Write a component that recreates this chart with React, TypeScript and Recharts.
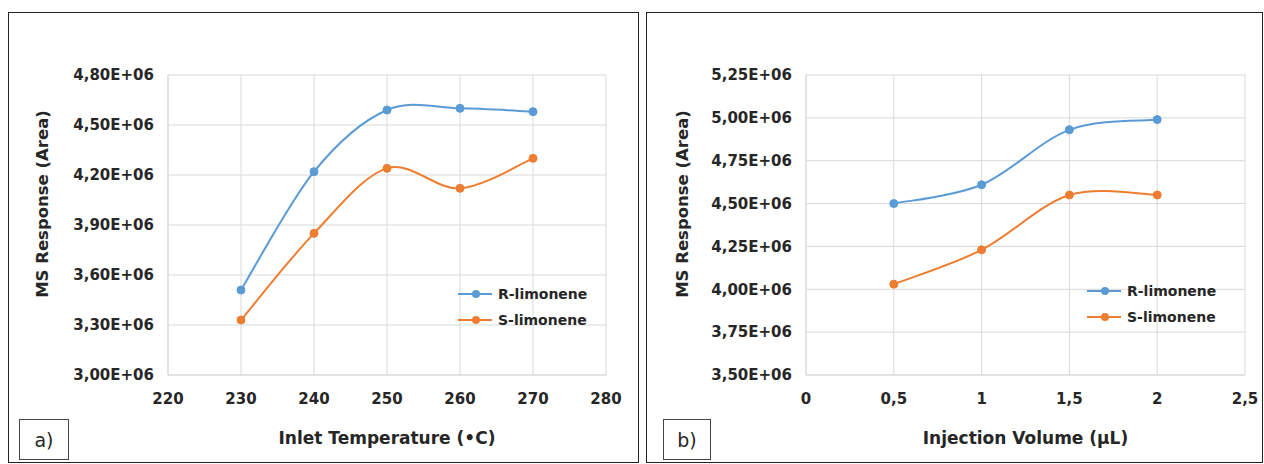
import React from "react";
import { LineChart, Line, XAxis, YAxis, CartesianGrid, Legend } from "recharts";

// panel a) inlet temperature
const temperatures = [230, 240, 250, 260, 270];
const rTemp = [3.51e6, 4.22e6, 4.59e6, 4.6e6, 4.58e6];
const sTemp = [3.33e6, 3.85e6, 4.24e6, 4.12e6, 4.3e6];
const tempTicks = [220, 230, 240, 250, 260, 270, 280];
const tempYTicks = [3.0e6, 3.3e6, 3.6e6, 3.9e6, 4.2e6, 4.5e6, 4.8e6];

// panel b) injection volume
const volumes = [0.5, 1, 1.5, 2];
const rVol = [4.5e6, 4.61e6, 4.93e6, 4.99e6];
const sVol = [4.03e6, 4.23e6, 4.55e6, 4.55e6];
const volTicks = [0, 0.5, 1, 1.5, 2, 2.5];
const volYTicks = [3.5e6, 3.75e6, 4.0e6, 4.25e6, 4.5e6, 4.75e6, 5.0e6, 5.25e6];

const BLUE = "#5b9bd5";
const ORANGE = "#ed7d31";
const GRID = "#d9d9d9";
const TEXT = "#262626";
const FONT = "'DejaVu Sans', Verdana, sans-serif";

const tempData = temperatures.map((t, i) => ({ x: t, r: rTemp[i], s: sTemp[i] }));
const volData = volumes.map((v, i) => ({ x: v, r: rVol[i], s: sVol[i] }));

const fmtY = (v: number) => (v / 1e6).toFixed(2).replace(".", ",") + "E+06";
const fmtX = (v: number) => String(v).replace(".", ",");

// Excel-style smoothed line (Catmull-Rom as cubic bezier)
function excelSmooth(context: any) {
  let pts: number[][] = [];
  return {
    areaStart() {},
    areaEnd() {},
    lineStart() {
      pts = [];
    },
    point(x: number, y: number) {
      pts.push([x, y]);
    },
    lineEnd() {
      const n = pts.length;
      if (!n) return;
      context.moveTo(pts[0][0], pts[0][1]);
      for (let i = 0; i < n - 1; i++) {
        const p0 = pts[Math.max(i - 1, 0)];
        const p1 = pts[i];
        const p2 = pts[i + 1];
        const p3 = pts[Math.min(i + 2, n - 1)];
        context.bezierCurveTo(
          p1[0] + (p2[0] - p0[0]) / 6,
          p1[1] + (p2[1] - p0[1]) / 6,
          p2[0] - (p3[0] - p1[0]) / 6,
          p2[1] - (p3[1] - p1[1]) / 6,
          p2[0],
          p2[1]
        );
      }
    },
  };
}

const tickStyle = { fontFamily: FONT, fontSize: 15, fontWeight: "bold", fill: TEXT };

const renderLegend = (props: any) => (
  <div style={{ fontFamily: FONT }}>
    {props.payload.map((entry: any, index: number) => (
      <div key={`item-${index}`} style={{ display: "flex", alignItems: "center", height: 26 }}>
        <svg width={34} height={10}>
          <line x1={0} y1={5} x2={34} y2={5} stroke={entry.color} strokeWidth={2} />
          <circle cx={18} cy={5} r={4} fill={entry.color} />
        </svg>
        <span style={{ marginLeft: 6, fontSize: 14, fontWeight: "bold", color: TEXT }}>{entry.value}</span>
      </div>
    ))}
  </div>
);

interface PanelProps {
  left: number;
  width: number;
  tag: string;
  tagLeft: number;
  tagWidth: number;
  data: any[];
  xTicks: number[];
  yTicks: number[];
  xTitle: string;
  yTitleX: number;
  legendLeft: number;
  legendTop: number;
  rightMargin: number;
}

const Panel: React.FC<PanelProps> = (p) => {
  const chartW = p.width - 2;
  const chartH = 449;
  return (
    <div
      style={{
        position: "absolute",
        left: p.left,
        top: 12,
        width: p.width,
        height: 451,
        border: "1px solid #222",
        boxSizing: "border-box",
        background: "#fff",
      }}
    >
      <LineChart
        width={chartW}
        height={chartH}
        data={p.data}
        margin={{ top: 62, right: p.rightMargin, left: 0, bottom: 0 }}
      >
        <CartesianGrid stroke={GRID} strokeWidth={1} />
        <XAxis
          dataKey="x"
          type="number"
          domain={[p.xTicks[0], p.xTicks[p.xTicks.length - 1]]}
          ticks={p.xTicks}
          tickFormatter={fmtX}
          tick={tickStyle}
          tickLine={false}
          tickSize={0}
          tickMargin={18}
          axisLine={{ stroke: GRID }}
          height={87}
          interval={0}
          label={{
            content: (lp: any) => {
              const vb = lp.viewBox || {};
              return (
                <text
                  x={vb.x + vb.width / 2}
                  y={vb.y + 63}
                  textAnchor="middle"
                  dominantBaseline="central"
                  fontFamily={FONT}
                  fontSize={17}
                  fontWeight="bold"
                  fill={TEXT}
                >
                  {p.xTitle}
                </text>
              );
            },
          }}
        />
        <YAxis
          type="number"
          domain={[p.yTicks[0], p.yTicks[p.yTicks.length - 1]]}
          ticks={p.yTicks}
          tickFormatter={fmtY}
          tick={tickStyle}
          tickLine={false}
          tickSize={0}
          tickMargin={14}
          axisLine={{ stroke: GRID }}
          width={159}
          interval={0}
          label={{
            content: () => (
              <text
                x={p.yTitleX}
                y={191}
                transform={`rotate(-90 ${p.yTitleX} 191)`}
                textAnchor="middle"
                dominantBaseline="central"
                fontFamily={FONT}
                fontSize={16.5}
                fontWeight="bold"
                fill={TEXT}
              >
                MS Response (Area)
              </text>
            ),
          }}
        />
        <Legend
          layout="vertical"
          align="center"
          verticalAlign="middle"
          content={renderLegend}
          wrapperStyle={{ left: p.legendLeft, top: p.legendTop, width: "auto", height: "auto" }}
        />
        <Line
          name="R-limonene"
          dataKey="r"
          type={excelSmooth as any}
          stroke={BLUE}
          strokeWidth={2}
          dot={{ r: 4, fill: BLUE, stroke: BLUE, strokeWidth: 1 }}
          activeDot={false}
          isAnimationActive={false}
        />
        <Line
          name="S-limonene"
          dataKey="s"
          type={excelSmooth as any}
          stroke={ORANGE}
          strokeWidth={2}
          dot={{ r: 4, fill: ORANGE, stroke: ORANGE, strokeWidth: 1 }}
          activeDot={false}
          isAnimationActive={false}
        />
      </LineChart>
      <div
        style={{
          position: "absolute",
          left: p.tagLeft,
          top: 406,
          width: p.tagWidth,
          height: 41,
          border: "1px solid #444",
          boxSizing: "border-box",
          display: "flex",
          alignItems: "center",
          justifyContent: "center",
          fontFamily: FONT,
          fontSize: 19,
          color: TEXT,
        }}
      >
        {p.tag}
      </div>
    </div>
  );
};

export default function App() {
  return (
    <div style={{ position: "relative", width: 1264, height: 464, overflow: "hidden" }}>
      <style>{"body { margin: 0; }"}</style>
      <Panel
        left={8}
        width={631}
        tag="a)"
        tagLeft={10}
        tagWidth={50}
        data={tempData}
        xTicks={tempTicks}
        yTicks={tempYTicks}
        xTitle="Inlet Temperature (•C)"
        yTitleX={33}
        legendLeft={449}
        legendTop={268}
        rightMargin={32}
      />
      <Panel
        left={646}
        width={617}
        tag="b)"
        tagLeft={16}
        tagWidth={48}
        data={volData}
        xTicks={volTicks}
        yTicks={volYTicks}
        xTitle="Injection Volume (µL)"
        yTitleX={35}
        legendLeft={440}
        legendTop={265}
        rightMargin={17}
      />
    </div>
  );
}
